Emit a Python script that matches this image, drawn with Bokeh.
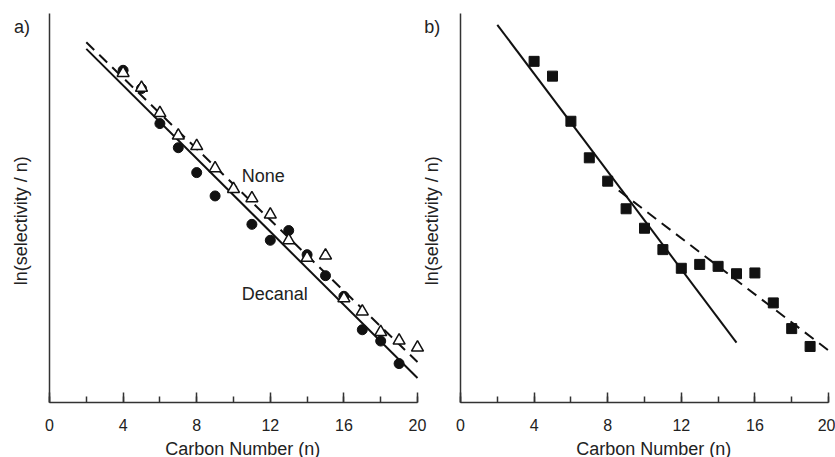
import math
from bokeh.plotting import figure
from bokeh.models import Range1d, SingleIntervalTicker, FixedTicker, Label, LinearAxis
from bokeh.embed import file_html
from bokeh.resources import INLINE

# ---- data (y in arbitrary ln units, axis unlabelled) ----
n_decanal = [4, 5, 6, 7, 8, 9, 11, 12, 13, 14, 15, 16, 17, 18, 19]
y_decanal = [8.54, 8.07, 7.17, 6.55, 5.91, 5.31, 4.58, 4.17, 4.42, 3.80, 3.26, 2.73, 1.87, 1.58, 1.00]

n_none = [4, 5, 6, 7, 8, 9, 10, 11, 12, 13, 14, 15, 16, 17, 18, 19, 20]
y_none = [8.47, 8.09, 7.44, 6.86, 6.59, 6.02, 5.49, 5.25, 4.83, 4.17, 3.72, 3.78, 2.68, 2.34, 1.81, 1.59, 1.41]

fit_decanal_n = [2, 20]
fit_decanal_y = [9.09, 0.63]
fit_none_n = [2, 20]
fit_none_y = [9.26, 1.04]

n_b = [4, 5, 6, 7, 8, 9, 10, 11, 12, 13, 14, 15, 16, 17, 18, 19]
y_b = [8.77, 8.39, 7.23, 6.29, 5.69, 4.98, 4.48, 3.93, 3.45, 3.55, 3.50, 3.31, 3.33, 2.56, 1.90, 1.44]

fit_b1_n = [2, 15]
fit_b1_y = [9.71, 1.54]
fit_b2_n = [8.6, 20]
fit_b2_y = [5.45, 1.34]

x_ticks_interval = 4
x_title = "Carbon Number (n)"
y_title = "ln(selectivity / n)"
panel_tags = ["a)", "b)"]
series_names = ["None", "Decanal"]

FONT = "Liberation Sans"
INK = "#111111"
TXT = "#222222"
AX = "#333333"

W, H = 835, 457
TOP = 13            # screen y of y-axis top
BOTTOM = 402        # screen y of x-axis
FRAME_W = 368       # screen width of 0..20
LEFT_A = 49         # screen x of panel a origin
LEFT_B = 460        # screen x of panel b origin
PX_X = FRAME_W / 20.0
PX_Y = (BOTTOM - TOP) / 10.0

p = figure(width=W, height=H, output_backend="svg", toolbar_location=None,
           title=None, x_axis_location=None, y_axis_location=None,
           x_range=Range1d(-LEFT_A / PX_X, (W - LEFT_A) / PX_X),
           y_range=Range1d(-(H - BOTTOM) / PX_Y, 10 + TOP / PX_Y),
           min_border=0, min_border_left=0, min_border_right=0,
           min_border_top=0, min_border_bottom=0)
p.extra_x_ranges = {"b": Range1d(-LEFT_B / PX_X, (W - LEFT_B) / PX_X)}
p.outline_line_color = None
p.grid.visible = False
p.background_fill_color = "white"
p.border_fill_color = "white"


def add_axes(rname):
    xa = LinearAxis(fixed_location=0, bounds=(0, 20), x_range_name=rname)
    xa.ticker = SingleIntervalTicker(interval=x_ticks_interval, num_minor_ticks=2)
    xa.axis_line_width = 1.5
    xa.axis_line_color = AX
    xa.major_tick_line_color = AX
    xa.minor_tick_line_color = AX
    xa.major_tick_line_width = 1.5
    xa.minor_tick_line_width = 1.5
    xa.major_tick_in = 10
    xa.major_tick_out = 0
    xa.minor_tick_in = 6
    xa.minor_tick_out = 0
    xa.major_label_text_font = FONT
    xa.major_label_text_font_size = "16px"
    xa.major_label_text_color = TXT
    xa.major_label_standoff = 16
    p.add_layout(xa, "below")

    ya = LinearAxis(fixed_location=0, bounds=(0, 10), x_range_name=rname)
    ya.ticker = FixedTicker(ticks=[])
    ya.axis_line_width = 1.5
    ya.axis_line_color = AX
    ya.major_tick_line_color = None
    ya.minor_tick_line_color = None
    ya.major_label_text_font_size = "0px"
    p.add_layout(ya, "left")

    p.add_layout(Label(x=10.5, y=0, y_offset=-46, text=x_title, text_font=FONT,
                       text_font_size="18px", text_color=TXT, x_range_name=rname,
                       text_align="center", text_baseline="middle"))
    p.add_layout(Label(x=0, y=4.67, x_offset=-29, text=y_title, text_font=FONT,
                       text_font_size="18px", text_color=TXT, angle=math.pi / 2,
                       x_range_name=rname, text_align="center", text_baseline="middle"))


add_axes("default")
add_axes("b")

# panel a
p.line(fit_decanal_n, fit_decanal_y, line_color=INK, line_width=2)
p.line(fit_none_n, fit_none_y, line_color=INK, line_width=2, line_dash="11 7")
p.scatter(n_decanal, y_decanal, marker="circle", size=10, fill_color=INK, line_color=INK)
p.scatter(n_none, y_none, marker="triangle", size=12, fill_color="white",
          line_color=INK, line_width=1.5)
p.add_layout(Label(x=0, y=10, x_offset=-27.5, y_offset=-13.5, text=panel_tags[0],
                   text_font=FONT, text_font_size="18px", text_color=TXT,
                   text_align="center", text_baseline="middle"))
p.add_layout(Label(x=10.45, y=5.815, text=series_names[0], text_font=FONT,
                   text_font_size="18px", text_color=TXT,
                   text_align="left", text_baseline="middle"))
p.add_layout(Label(x=10.45, y=2.78, text=series_names[1], text_font=FONT,
                   text_font_size="18px", text_color=TXT,
                   text_align="left", text_baseline="middle"))

# panel b
p.line(fit_b1_n, fit_b1_y, line_color=INK, line_width=2, x_range_name="b")
p.line(fit_b2_n, fit_b2_y, line_color=INK, line_width=2, line_dash="11 7", x_range_name="b")
p.scatter(n_b, y_b, marker="square", size=10, fill_color=INK, line_color=INK, x_range_name="b")
p.add_layout(Label(x=0, y=10, x_offset=-28.3, y_offset=-13, text=panel_tags[1],
                   text_font=FONT, text_font_size="18px", text_color=TXT, x_range_name="b",
                   text_align="center", text_baseline="middle"))

open("out.html", "w").write(file_html(p, INLINE))
